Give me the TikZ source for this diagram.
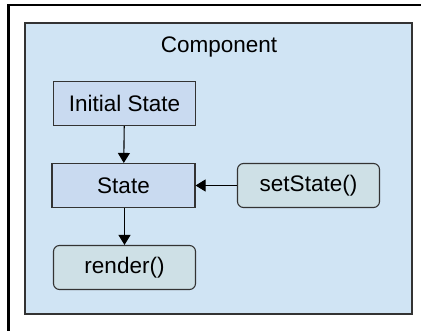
\documentclass[tikz,border=0pt]{standalone}
\usepackage{fontspec}
\setmainfont{Liberation Sans}
\usetikzlibrary{arrows.meta}
\definecolor{bgblue}{HTML}{D0E4F4}
\definecolor{boxblue}{HTML}{C9DAF0}
\definecolor{boxgreen}{HTML}{CEE0E6}
\definecolor{edge}{HTML}{333333}
\tikzset{
  box/.style={draw=edge, line width=1.1pt, fill=boxblue, minimum width=142pt, minimum height=44pt, inner sep=0pt, font=\fontsize{22.5}{27}\selectfont},
  rbox/.style={box, fill=boxgreen, rounded corners=6pt},
  arr/.style={draw=black, line width=1.1pt, -{Triangle[length=10pt,width=12pt]}}
}
\begin{document}
\begin{tikzpicture}[x=1pt,y=-1pt]
\useasboundingbox (0,0) rectangle (421,331);
\fill[white] (0,0) rectangle (421,331);
\draw[line width=2.6pt, black] (421,5) -- (8.3,5) -- (8.3,331);
\node[draw=edge, line width=1.1pt, fill=bgblue, minimum width=387pt, minimum height=291pt, inner sep=0pt] (comp) at (218.5,168.5) {};
\node[font=\fontsize{22.5}{27}\selectfont] (title) at (219,47) {Component};
\node[box] (init) at (124.5,103.5) {Initial State};
\node[box, minimum width=143pt] (state) at (123.5,185.5) {State};
\node[rbox] (set) at (308.5,185.5) {setState()};
\node[rbox] (render) at (124.5,267.5) {render()};
\draw[arr] (init) -- (state);
\draw[arr] (state.south -| render.north) -- (render);
\draw[arr] (set) -- (state);
\end{tikzpicture}
\end{document}
